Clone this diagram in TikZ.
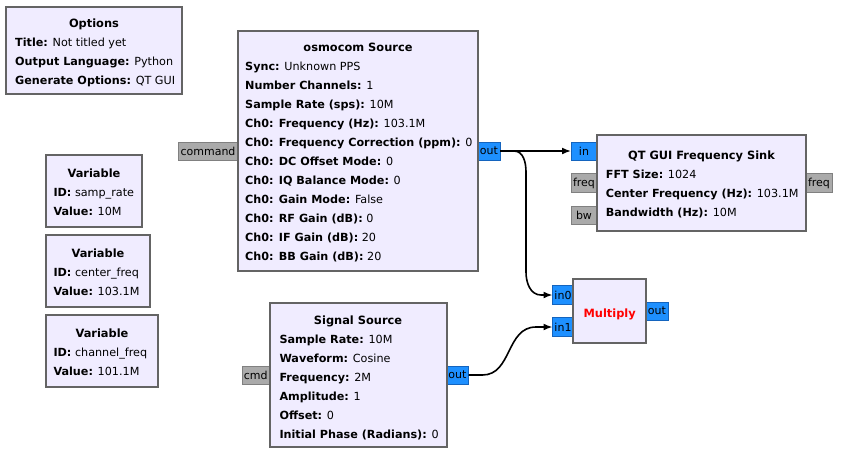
\documentclass[tikz,border=0pt]{standalone}
\usepackage{fontspec}
\setmainfont{DejaVu Sans}
\usetikzlibrary{arrows.meta}
\definecolor{blockfill}{RGB}{240,236,255}
\definecolor{blockdraw}{RGB}{100,100,100}
\definecolor{streamfill}{RGB}{30,144,255}
\definecolor{streamdraw}{RGB}{20,100,190}
\definecolor{msgfill}{RGB}{170,170,170}
\definecolor{msgdraw}{RGB}{128,128,128}
\tikzset{
  blk/.style={draw=blockdraw, line width=2pt, fill=blockfill},
  sport/.style={draw=streamdraw, line width=1pt, fill=streamfill},
  mport/.style={draw=msgdraw, line width=1pt, fill=msgfill},
  ptxt/.style={font=\fontsize{11}{13}\selectfont, inner sep=0pt},
  kv/.style={anchor=base west, inner sep=0pt, font=\fontsize{11.2}{13}\selectfont},
  ttl/.style={anchor=base, inner sep=0pt, font=\fontsize{11.4}{13}\selectfont\bfseries},
  conn/.style={line width=1.6pt, -{Latex[length=9pt,width=7pt]}},
}
\newcommand{\kvt}[2]{\textbf{#1:} #2}
\begin{document}
\begin{tikzpicture}[x=1pt,y=-1pt]
\useasboundingbox (0,0) rectangle (847,459);
\fill[white] (0,0) rectangle (847,459);

% Options
\draw[blk] (6,7) rectangle (182,94);
\node[ttl] (opt) at (94,27) {Options};
\node[kv] (opt1) at (15,46.5) {\kvt{Title}{Not titled yet}};
\node[kv] (opt2) at (15,65.5) {\kvt{Output Language}{Python}};
\node[kv] (opt3) at (15,84.5) {\kvt{Generate Options}{QT GUI}};

% Variables
\draw[blk] (46,154.5) rectangle (142,227);
\node[ttl] (v1t) at (94,177.3) {Variable};
\node[kv] (v1a) at (53.3,196.3) {\kvt{ID}{samp\_rate}};
\node[kv] (v1b) at (53.3,215.3) {\kvt{Value}{10M}};

\draw[blk] (46,235) rectangle (150,307);
\node[ttl] (v2t) at (98,257.3) {Variable};
\node[kv] (v2a) at (53.3,276.3) {\kvt{ID}{center\_freq}};
\node[kv] (v2b) at (53.3,295.3) {\kvt{Value}{103.1M}};

\draw[blk] (46,314.5) rectangle (158,387);
\node[ttl] (v3t) at (102,337.3) {Variable};
\node[kv] (v3a) at (53.3,356.3) {\kvt{ID}{channel\_freq}};
\node[kv] (v3b) at (53.3,375.3) {\kvt{Value}{101.1M}};

% osmocom Source
\draw[mport] (178,142) rectangle (238,160);
\node[ptxt] (cmdp) at (208,151) {command};
\draw[sport] (478,142) rectangle (500,160);
\node[ptxt] (osmoout) at (489,151) {out};
\coordinate (osmoE) at (500,151);
\draw[blk] (238,31) rectangle (478,271);
\node[ttl] (osmo) at (358,51.7) {osmocom Source};
\node[kv] at (245,70.7) {\kvt{Sync}{Unknown PPS}};
\node[kv] at (245,89.7) {\kvt{Number Channels}{1}};
\node[kv] at (245,108.7) {\kvt{Sample Rate (sps)}{10M}};
\node[kv] at (245,127.7) {\kvt{Ch0: Frequency (Hz)}{103.1M}};
\node[kv] at (245,146.7) {\kvt{Ch0: Frequency Correction (ppm)}{0}};
\node[kv] at (245,165.7) {\kvt{Ch0: DC Offset Mode}{0}};
\node[kv] at (245,184.7) {\kvt{Ch0: IQ Balance Mode}{0}};
\node[kv] at (245,203.7) {\kvt{Ch0: Gain Mode}{False}};
\node[kv] at (245,222.7) {\kvt{Ch0: RF Gain (dB)}{0}};
\node[kv] at (245,241.7) {\kvt{Ch0: IF Gain (dB)}{20}};
\node[kv] at (245,260.7) {\kvt{Ch0: BB Gain (dB)}{20}};

% QT GUI Frequency Sink
\draw[sport] (571,142.5) rectangle (597,160.5);
\node[ptxt] (sinkin) at (584,151.5) {in};
\coordinate (sinkinW) at (571,151);
\draw[mport] (571,173.5) rectangle (597,192);
\node[ptxt] (sinkfreq) at (584,183) {freq};
\draw[mport] (571,206) rectangle (597,224);
\node[ptxt] (sinkbw) at (584,215) {bw};
\draw[mport] (806,173.5) rectangle (832.5,192);
\node[ptxt] (sinkfreqo) at (819,183) {freq};
\draw[blk] (597,135) rectangle (806,231);
\node[ttl] (sink) at (701.5,159) {QT GUI Frequency Sink};
\node[kv] at (605.7,178.3) {\kvt{FFT Size}{1024}};
\node[kv] at (605.7,197.3) {\kvt{Center Frequency (Hz)}{103.1M}};
\node[kv] at (605.7,216.3) {\kvt{Bandwidth (Hz)}{10M}};

% Multiply
\draw[sport] (552.5,285.5) rectangle (573,304);
\node[ptxt] (in0) at (563,295) {in0};
\coordinate (in0W) at (552.5,295);
\draw[sport] (552.5,317.5) rectangle (573,336);
\node[ptxt] (in1) at (563,327) {in1};
\coordinate (in1W) at (552.5,327);
\draw[sport] (646,302) rectangle (668,320);
\node[ptxt] (mulout) at (657,311) {out};
\draw[blk] (573,279) rectangle (646,342.5);
\node[ttl, text=red] (mult) at (609.7,317.3) {Multiply};

% Signal Source
\draw[mport] (242,366) rectangle (269.5,384);
\node[ptxt] (sigcmd) at (255.7,375) {cmd};
\draw[sport] (446.5,366) rectangle (468.5,384);
\node[ptxt] (sigout) at (457.5,375) {out};
\coordinate (sigE) at (468.5,375);
\draw[blk] (269.5,303) rectangle (446.5,446.5);
\node[ttl] (sig) at (358,324) {Signal Source};
\node[kv] at (279.3,343) {\kvt{Sample Rate}{10M}};
\node[kv] at (279.3,362) {\kvt{Waveform}{Cosine}};
\node[kv] at (279.3,381) {\kvt{Frequency}{2M}};
\node[kv] at (279.3,400) {\kvt{Amplitude}{1}};
\node[kv] at (279.3,419) {\kvt{Offset}{0}};
\node[kv] at (279.3,438) {\kvt{Initial Phase (Radians)}{0}};

% connectors
\draw[conn] (osmoE) -- (sinkinW);
\draw[conn] (osmoE) -- ++(14,0) to[out=0,in=90] (526,172) -- (526,272)
  to[out=-90,in=180] (541,295) -- (in0W);
\draw[conn] (sigE) -- ++(14,0) .. controls (512,375) and (506,327) .. (536,327) -- (in1W);
\end{tikzpicture}
\end{document}
